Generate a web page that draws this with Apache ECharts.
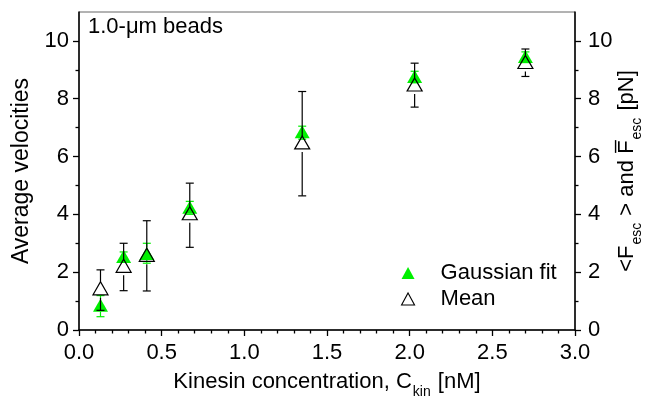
<!DOCTYPE html>
<html>
<head>
<meta charset="utf-8">
<script src="https://cdn.jsdelivr.net/npm/echarts@6/dist/echarts.min.js"></script>
<style>html,body{margin:0;padding:0;background:#fff}#c{width:651px;height:405px}</style>
</head>
<body>
<div id="c"></div>
<script>
// Kinesin concentration [nM]
const conc = [0.13, 0.27, 0.41, 0.67, 1.35, 2.03, 2.70];
// Gaussian fit values and error limits
const gaussVal = [0.86, 2.54, 2.65, 4.25, 6.86, 8.77, 9.46];
const gaussLo  = [0.46, 2.35, 2.31, 4.00, 6.60, 8.55, 9.25];
const gaussHi  = [1.19, 2.70, 3.00, 4.45, 7.05, 8.95, 9.62];
// Mean values and error limits
const meanVal = [1.44, 2.22, 2.60, 4.04, 6.49, 8.49, 9.27];
const meanLo  = [0.68, 1.36, 1.35, 2.86, 4.64, 7.71, 8.77];
const meanHi  = [2.08, 3.00, 3.78, 5.08, 8.25, 9.23, 9.72];
const yTicks = [0, 2, 4, 6, 8, 10];
const yMinorTicks = [1, 3, 5, 7, 9];

const GREEN = '#00f000';
const FONT = 'Liberation Sans, Arial, sans-serif';

function errData(v, lo, hi) {
  return conc.map((x, i) => [x, v[i], lo[i], hi[i]]);
}
function errRender(color, gapTop, gapBot) {
  return function (params, api) {
    const x = api.value(0);
    const c = api.coord([x, api.value(1)]);
    const lo = api.coord([x, api.value(2)]);
    const hi = api.coord([x, api.value(3)]);
    const cap = 4;
    const st = { stroke: color, lineWidth: 1.2 };
    const ch = [];
    if (hi[1] < c[1] - gapTop) ch.push({ type: 'line', shape: { x1: c[0], y1: hi[1], x2: c[0], y2: c[1] - gapTop }, style: st });
    ch.push({ type: 'line', shape: { x1: c[0] - cap, y1: hi[1], x2: c[0] + cap, y2: hi[1] }, style: st });
    if (lo[1] > c[1] + gapBot) ch.push({ type: 'line', shape: { x1: c[0], y1: c[1] + gapBot, x2: c[0], y2: lo[1] }, style: st });
    ch.push({ type: 'line', shape: { x1: c[0] - cap, y1: lo[1], x2: c[0] + cap, y2: lo[1] }, style: st });
    return { type: 'group', children: ch };
  };
}

const richName = {
  n: { fontSize: 22, fontFamily: FONT, color: '#000', lineHeight: 26, verticalAlign: 'top' },
  s: { fontSize: 14, fontFamily: FONT, color: '#000', lineHeight: 14, padding: [14, 1, 0, 1], verticalAlign: 'top' }
};

function yAxisMain(pos, margin) {
  return {
    type: 'value', position: pos, min: 0, max: 11, interval: 2,
    axisLine: { show: true, lineStyle: { color: '#000', width: 1.5 } },
    axisTick: { show: true, inside: false, length: 6, customValues: yTicks, lineStyle: { color: '#000', width: 1.3 } },
    minorTick: { show: false },
    splitLine: { show: false },
    axisLabel: { customValues: yTicks, fontSize: 22, fontFamily: FONT, color: '#000', margin: margin }
  };
}
function yAxisMinor(pos) {
  return {
    type: 'value', position: pos, min: 0, max: 11, interval: 1,
    axisLine: { show: false },
    axisTick: { show: true, inside: false, length: 3.5, customValues: yMinorTicks, lineStyle: { color: '#000', width: 1.3 } },
    axisLabel: { show: false }, splitLine: { show: false }
  };
}

const yl = yAxisMain('left', 10);
yl.name = 'Average velocities';
yl.nameLocation = 'middle';
yl.nameGap = 45;
yl.nameTextStyle = { fontSize: 23, fontFamily: FONT, color: '#000' };
const yr = yAxisMain('right', 13);
yr.name = '{n|<F}{s|esc}{n| > and F\u0305}{s|esc}{n| [pN]}';
yr.nameLocation = 'middle';
yr.nameGap = 41;
yr.nameMoveOverlap = false;
yr.nameTextStyle = { rich: richName };

const option = {
  animation: false,
  backgroundColor: '#fff',
  grid: { left: 79, right: 76, top: 12, bottom: 75, containLabel: false, outerBoundsMode: 'none',
          show: true, borderColor: '#666', borderWidth: 1, backgroundColor: 'transparent' },
  xAxis: {
    type: 'value', min: 0, max: 3, interval: 0.5,
    axisLine: { show: true, lineStyle: { color: '#000', width: 1.5 } },
    axisTick: { show: true, inside: false, length: 6, lineStyle: { color: '#000', width: 1.3 } },
    minorTick: { show: true, splitNumber: 5, length: 3.5, lineStyle: { color: '#000', width: 1.3 } },
    splitLine: { show: false },
    axisLabel: { fontSize: 22, fontFamily: FONT, color: '#000', margin: 12, formatter: v => v.toFixed(1) },
    name: '{n|Kinesin concentration, C}{s|kin}{n| [nM]}',
    nameLocation: 'middle', nameGap: 41,
    nameTextStyle: { rich: richName }
  },
  yAxis: [yl, yr, yAxisMinor('left'), yAxisMinor('right')],
  legend: {
    orient: 'vertical', left: 396, top: 257, itemGap: 4, itemWidth: 13, itemHeight: 12,
    textStyle: { fontSize: 22, fontFamily: FONT, color: '#000', padding: [0, 0, 0, 21] },
    data: [
      { name: 'Gaussian fit', icon: 'triangle', itemStyle: { color: GREEN, borderWidth: 0 } },
      { name: 'Mean', icon: 'triangle', itemStyle: { color: '#fff', borderColor: '#000', borderWidth: 1.1 } }
    ]
  },
  graphic: [
    { type: 'text', left: 88, top: 16, style: { text: '1.0-\u03bcm beads', fontSize: 22, fontFamily: FONT, fill: '#000' } }
  ],
  series: [
    { name: 'Gaussian fit', type: 'scatter', symbol: 'triangle', symbolSize: [15, 13], z: 3,
      itemStyle: { color: GREEN, opacity: 1 }, data: conc.map((x, i) => [x, gaussVal[i]]) },
    { name: 'gerr', type: 'custom', z: 4, renderItem: errRender(GREEN, 6.5, 6.5),
      encode: { x: 0, y: [1, 2, 3] }, data: errData(gaussVal, gaussLo, gaussHi) },
    { name: 'merr', type: 'custom', z: 5, renderItem: errRender('#000', 6.5, 9.5),
      encode: { x: 0, y: [1, 2, 3] }, data: errData(meanVal, meanLo, meanHi) },
    { name: 'Mean', type: 'scatter', symbol: 'triangle', symbolSize: [15, 13], z: 6,
      itemStyle: { color: 'rgba(255,255,255,0)', borderColor: '#000', borderWidth: 1.2, opacity: 1 },
      data: conc.map((x, i) => [x, meanVal[i]]) }
  ]
};
echarts.init(document.getElementById('c')).setOption(option);
</script>
</body>
</html>
